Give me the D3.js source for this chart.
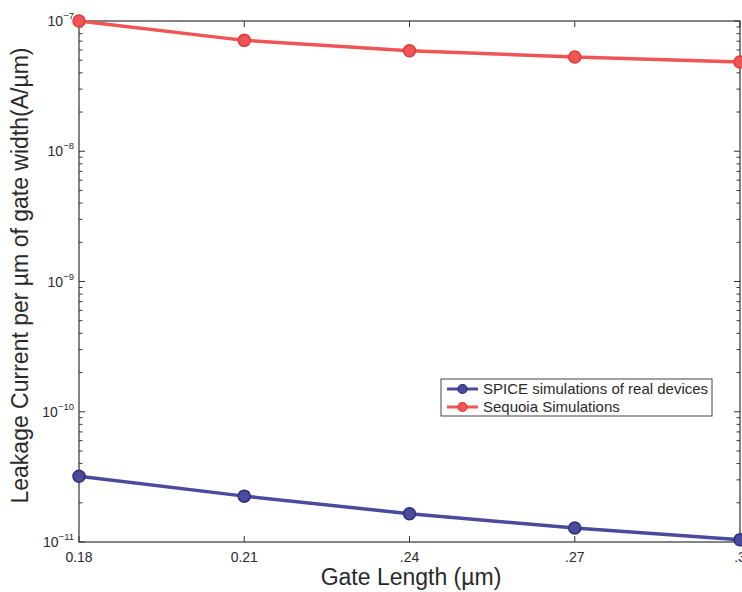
<!DOCTYPE html>
<html><head><meta charset="utf-8">
<script src="https://cdn.jsdelivr.net/npm/d3@7"></script>
<style>body{margin:0;background:#fff}svg{display:block}</style>
</head><body>
<svg id="c" width="742" height="592"></svg>
<script>
const gateLength = [0.18, 0.21, 0.24, 0.27, 0.30];
const spiceValues = [3.2e-11, 2.25e-11, 1.65e-11, 1.28e-11, 1.04e-11];
const sequoiaValues = [1.0e-7, 7.1e-8, 5.9e-8, 5.3e-8, 4.85e-8];
const xTickLabels = ["0.18", "0.21", ".24", ".27", ".3"];
const yTickValues = [1e-11, 1e-10, 1e-9, 1e-8, 1e-7];
const yTickExp = ["-11", "-10", "-9", "-8", "-7"];
const seriesNames = ["SPICE simulations of real devices", "Sequoia Simulations"];

const svg = d3.select("#c");
const L = 79, R = 740, T = 21, B = 542;
const x = d3.scaleLinear().domain([0.18, 0.30]).range([L, R]);
const y = d3.scaleLog().domain([1e-11, 1e-7]).range([B, T]);
const axisColor = "#333";
const textColor = "#2a2a2a";
const font = "Liberation Sans, Arial, sans-serif";

// minor ticks
const minor = [];
for (let e = -11; e < -7; e++) for (let m = 2; m <= 9; m++) minor.push(m * Math.pow(10, e));

const g = svg.append("g");
// box
g.append("rect").attr("x", L).attr("y", T).attr("width", R - L).attr("height", B - T)
  .attr("fill", "none").attr("stroke", axisColor).attr("stroke-width", 1.2);

// x ticks (inside, bottom and top)
gateLength.forEach((v, i) => {
  g.append("line").attr("x1", x(v)).attr("x2", x(v)).attr("y1", B).attr("y2", B - 6).attr("stroke", axisColor);
  g.append("line").attr("x1", x(v)).attr("x2", x(v)).attr("y1", T).attr("y2", T + 6).attr("stroke", axisColor);
  g.append("text").attr("x", x(v)).attr("y", B + 20).attr("text-anchor", "middle")
    .attr("font-family", font).attr("font-size", 14).attr("fill", textColor).text(xTickLabels[i]);
});
// y ticks
yTickValues.forEach((v, i) => {
  g.append("line").attr("x1", L).attr("x2", L + 6).attr("y1", y(v)).attr("y2", y(v)).attr("stroke", axisColor);
  g.append("line").attr("x1", R).attr("x2", R - 6).attr("y1", y(v)).attr("y2", y(v)).attr("stroke", axisColor);
  const t = g.append("text").attr("x", L - 5).attr("y", y(v) + 5).attr("text-anchor", "end")
    .attr("font-family", font).attr("font-size", 14).attr("fill", textColor);
  t.append("tspan").text("10");
  t.append("tspan").attr("dy", -7).attr("font-size", 9.5).text(yTickExp[i].replace("-", "\u2212"));
});
minor.forEach(v => {
  g.append("line").attr("x1", L).attr("x2", L + 3.5).attr("y1", y(v)).attr("y2", y(v)).attr("stroke", axisColor);
  g.append("line").attr("x1", R).attr("x2", R - 3.5).attr("y1", y(v)).attr("y2", y(v)).attr("stroke", axisColor);
});

// axis labels
svg.append("text").attr("x", 411).attr("y", 585).attr("text-anchor", "middle")
  .attr("font-family", font).attr("font-size", 23).attr("fill", textColor).text("Gate Length (\u00b5m)");
svg.append("text").attr("transform", "translate(28," + ((T + B) / 2 - 6) + ") rotate(-90)")
  .attr("text-anchor", "middle").attr("font-family", font).attr("font-size", 23).attr("fill", textColor)
  .text("Leakage Current per \u00b5m of gate width(A/\u00b5m)");

// series
const series = [
  {name: seriesNames[0], values: spiceValues, color: "#4a4a9e", edge: "#2e2e78"},
  {name: seriesNames[1], values: sequoiaValues, color: "#f05555", edge: "#e03a3a"}
];
const line = d3.line().x(d => x(d[0])).y(d => y(d[1]));
series.forEach(s => {
  const pts = gateLength.map((v, i) => [v, s.values[i]]);
  svg.append("path").datum(pts).attr("d", line).attr("fill", "none")
    .attr("stroke", s.color).attr("stroke-width", 3.5);
  svg.selectAll(null).data(pts).enter().append("circle")
    .attr("cx", d => x(d[0])).attr("cy", d => y(d[1])).attr("r", 6)
    .attr("fill", s.color).attr("stroke", s.edge).attr("stroke-width", 1.5);
});

// legend
const lg = svg.append("g");
lg.append("rect").attr("x", 441).attr("y", 379).attr("width", 271).attr("height", 37)
  .attr("fill", "#fff").attr("stroke", "#444").attr("stroke-width", 1);
series.forEach((s, i) => {
  const yy = 389 + i * 18;
  lg.append("line").attr("x1", 447).attr("x2", 478).attr("y1", yy).attr("y2", yy)
    .attr("stroke", s.color).attr("stroke-width", 3);
  lg.append("circle").attr("cx", 462.5).attr("cy", yy).attr("r", 4.5)
    .attr("fill", s.color).attr("stroke", s.edge).attr("stroke-width", 1.2);
  lg.append("text").attr("x", 483).attr("y", yy + 5).attr("font-family", font)
    .attr("font-size", 15).attr("fill", textColor).text(s.name);
});
</script>
</body></html>
